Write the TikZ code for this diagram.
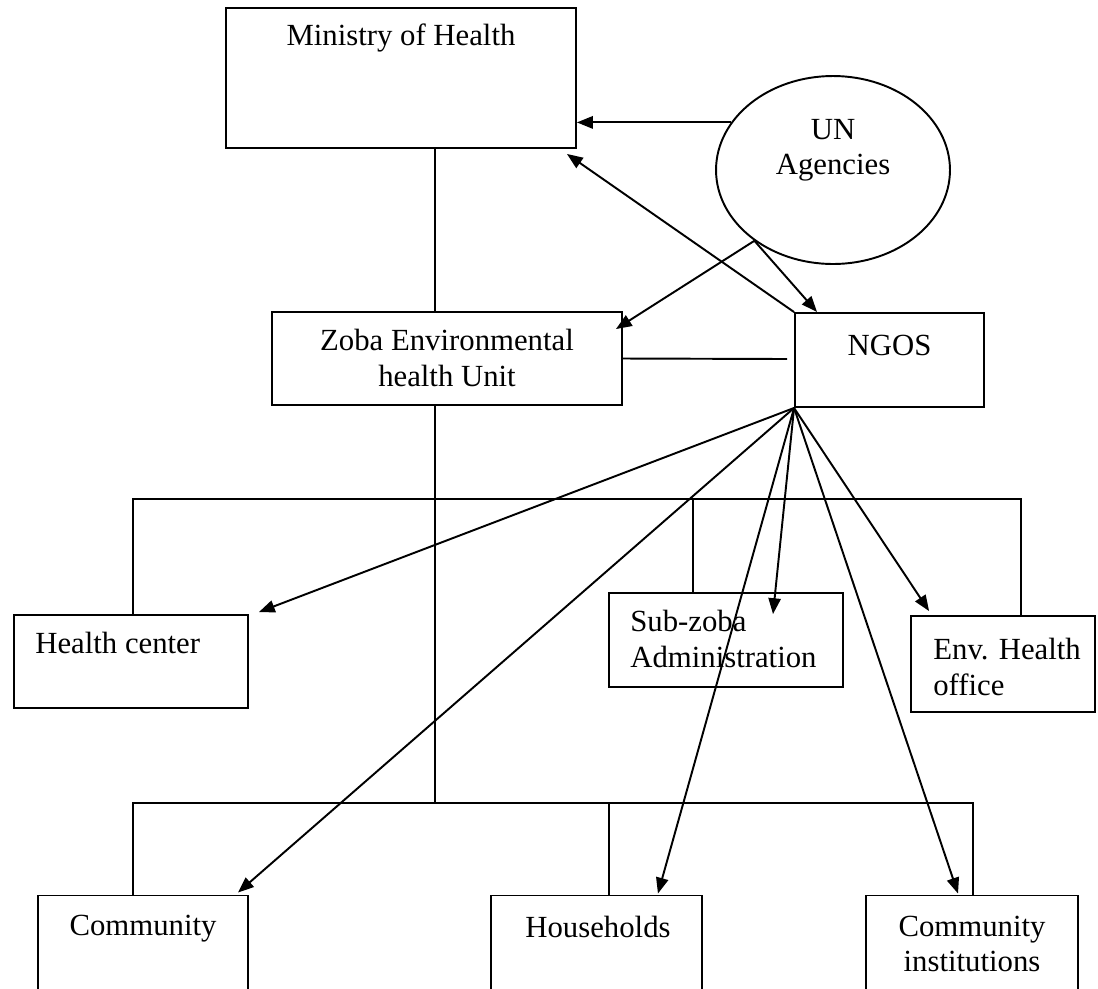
\documentclass[tikz,border=0pt]{standalone}
\usepackage{fontspec}
\setmainfont{Liberation Serif}
\usetikzlibrary{shapes.geometric,arrows.meta,calc}

\begin{document}
\begin{tikzpicture}[x=0.02cm, y=-0.02cm,
	box/.style={draw, line width=1.1pt, inner sep=0pt},
	txt/.style={font=\fontsize{17.5}{20}\selectfont, inner sep=0pt},
	link/.style={line width=1.1pt},
	arr/.style={line width=1.1pt, -{Triangle[length=9pt,width=7pt]}},]

\useasboundingbox (0,0) rectangle (1098,988);

% boxes
\node[box, minimum width=7cm, minimum height=2.8cm] (mh) at (401,78) {};
\node[box, ellipse, minimum width=4.68cm, minimum height=3.76cm] (un) at (833,170) {};
\node[box, minimum width=7cm, minimum height=1.86cm] (zoba) at (447,358.5) {};
\node[box, minimum width=3.78cm, minimum height=1.88cm] (ngos) at (889.5,360) {};
\node[box, minimum width=4.68cm, minimum height=1.86cm] (hc) at (131,661.5) {};
\node[box, minimum width=4.68cm, minimum height=1.88cm] (sz) at (726,640) {};
\node[box, minimum width=3.68cm, minimum height=1.92cm] (env) at (1003,664) {};
\node[box, minimum width=4.2cm, minimum height=2.1cm] (com) at (143,948) {};
\node[box, minimum width=4.22cm, minimum height=2.1cm] (hh) at (596.5,948) {};
\node[box, minimum width=4.24cm, minimum height=2.1cm] (ci) at (972,948) {};

% texts
\node[txt] (mh-t) at (401,38) {Ministry of Health};
\node[txt, align=center] (un-t) at (833,150) {UN\\Agencies};
\node[txt, align=center] (zoba-t) at (447,358) {Zoba Environmental\\health Unit};
\node[txt] (ngos-t) at (889.5,345) {NGOS};
\node[txt, anchor=west] (hc-t) at (35,643) {Health center};
\node[txt, align=left, anchor=west] (sz-t) at (630,639) {Sub-zoba\\Administration};
\node[txt, align=left, anchor=west] (env-t) at (933,667) {Env. Health\\office};
\node[txt] (com-t) at (143,929) {Community};
\node[txt] (hh-t) at (598,927) {Households};
\node[txt, align=center] (ci-t) at (972,944) {Community\\institutions};

% lines
\coordinate (tk) at (435,500);
\coordinate (zn) at (787,359);
\coordinate (b1l) at (133,499);
\coordinate (b1m) at (693,499);
\coordinate (b1r) at (1021,499);
\coordinate (b2l) at (133,803);
\coordinate (b2m) at (609,803);
\coordinate (b2r) at (973,803);

\draw[link] (mh.south -| tk) -- (zoba.north -| tk);
\draw[link] (zoba.south -| tk) -- (tk |- b2l);
\draw[link] (zoba.east) -- (zn);
\draw[link] (hc.north -| b1l) -- (b1l) -- (b1r) -- (env.north -| b1r);
\draw[link] (b1m) -- (sz.north -| b1m);
\draw[link] (com.north -| b2l) -- (b2l) -- (b2r) -- (ci.north -| b2r);
\draw[link] (b2m) -- (hh.north -| b2m);

% arrows
\draw[arr] (un.155) -- (un.155 -| mh.east);
\draw[arr] (ngos.north west) -- ($(mh.south east)+(-10,5)$);
\draw[arr] (un.222) -- ($(zoba.north east)+(-7,18)$);
\draw[arr] (un.222) -- ($(ngos.north west)+(23,0)$);
\draw[arr] (ngos.south west) -- ($(hc.north east)+(10,-2)$);
\draw[arr] (ngos.south west) -- ($(com.north east)+(-11,-2)$);
\draw[arr] (ngos.south west) -- ($(sz.north)+(47,22)$);
\draw[arr] (ngos.south west) -- ($(hh.north east)+(-45,-1)$);
\draw[arr] (ngos.south west) -- ($(ci.north)+(-14,-1)$);
\draw[arr] (ngos.south west) -- ($(env.north west)+(19,-4)$);
\end{tikzpicture}
\end{document}
